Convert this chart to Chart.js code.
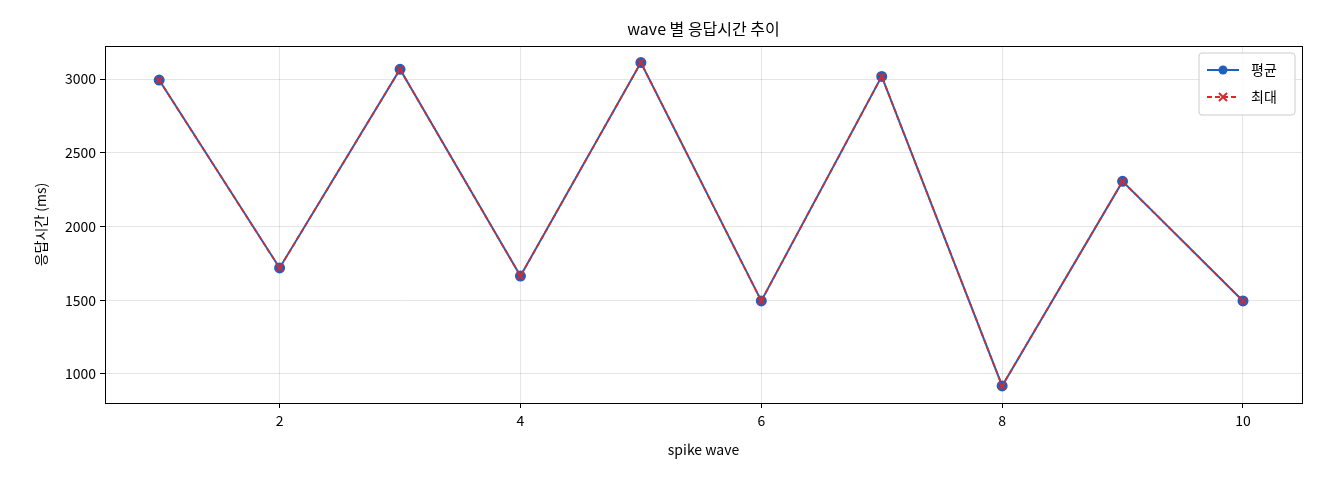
<!DOCTYPE html>
<html><head><meta charset="utf-8">
<script src="https://cdn.jsdelivr.net/npm/chart.js@4/dist/chart.umd.min.js"></script>
<style>html,body{margin:0;background:#fff}#w{width:1320px;height:480px}</style>
</head><body><div id="w"><canvas id="c"></canvas></div>
<script>
const waves=[1,2,3,4,5,6,7,8,9,10];
const avgMs=[2993,1719,3066,1664,3112,1495,3018,919,2306,1495];
const maxMs=[2993,1719,3066,1664,3112,1495,3018,919,2306,1495];
const F='"Noto Sans CJK KR","DejaVu Sans",sans-serif';
const blue='#1f5fbf', red='#d62b2b';
const deco={id:'deco',afterDraw(ch){const c=ch.ctx,a=ch.chartArea;c.save();
c.strokeStyle='#000';c.lineWidth=1;c.strokeRect(a.left+.5,a.top+.5,a.right-a.left,a.bottom-a.top);
c.fillStyle='#000';c.font='16px '+F;c.textAlign='center';c.textBaseline='middle';
c.fillText('wave 별 응답시간 추이',(a.left+a.right)/2,29);
const bx=a.right-103,by=a.top+7,bw=96,bh=62;
c.fillStyle='rgba(255,255,255,0.85)';c.strokeStyle='#ccc';c.beginPath();c.roundRect(bx,by,bw,bh,3);c.fill();c.stroke();
c.lineWidth=2;c.strokeStyle=blue;c.beginPath();c.moveTo(bx+8,by+17);c.lineTo(bx+40,by+17);c.stroke();
c.fillStyle=blue;c.beginPath();c.arc(bx+24,by+17,4.5,0,7);c.fill();
c.strokeStyle=red;c.setLineDash([5,3]);c.beginPath();c.moveTo(bx+8,by+44);c.lineTo(bx+40,by+44);c.stroke();c.setLineDash([]);
c.beginPath();c.moveTo(bx+20,by+40);c.lineTo(bx+28,by+48);c.moveTo(bx+28,by+40);c.lineTo(bx+20,by+48);c.stroke();
c.fillStyle='#000';c.font='14px '+F;c.textAlign='left';c.fillText('평균',bx+52,by+17);c.fillText('최대',bx+52,by+44);
c.restore();}};
new Chart(document.getElementById('c'),{type:'line',
data:{datasets:[
{label:'평균',order:2,data:waves.map((x,i)=>({x,y:avgMs[i]})),borderColor:blue,backgroundColor:blue,borderWidth:2,pointRadius:4.5,pointStyle:'circle'},
{label:'최대',order:1,data:waves.map((x,i)=>({x,y:maxMs[i]})),borderColor:red,backgroundColor:red,borderWidth:1.8,borderDash:[5,3],pointRadius:5,pointStyle:'crossRot',pointBorderWidth:1.8}
]},
options:{responsive:true,maintainAspectRatio:false,animation:false,
layout:{padding:{top:46,right:18,left:28,bottom:18}},
plugins:{legend:{display:false},title:{display:false},tooltip:{enabled:false}},
scales:{
x:{type:'linear',min:0.55,max:10.49,afterFit(s){s.height=59},
afterBuildTicks(s){s.ticks=[2,4,6,8,10].map(v=>({value:v}))},
grid:{color:'rgba(0,0,0,0.1)',drawTicks:true,tickLength:5,tickColor:'#000'},border:{display:false},
ticks:{color:'#000',font:{size:14,family:F},padding:4,callback:v=>String(v)},
title:{display:true,text:'spike wave',color:'#000',font:{size:14,family:F},padding:{top:4}}},
y:{min:803,max:3224,afterFit(s){s.width=77},
afterBuildTicks(s){s.ticks=[1000,1500,2000,2500,3000].map(v=>({value:v}))},
grid:{color:'rgba(0,0,0,0.1)',tickLength:5,tickColor:'#000'},border:{display:false},
ticks:{color:'#000',font:{size:14,family:F},padding:4,callback:v=>String(v)},
title:{display:true,text:'응답시간 (ms)',color:'#000',font:{size:14,family:F},padding:{bottom:4}}}
}},plugins:[deco]});
</script></body></html>
